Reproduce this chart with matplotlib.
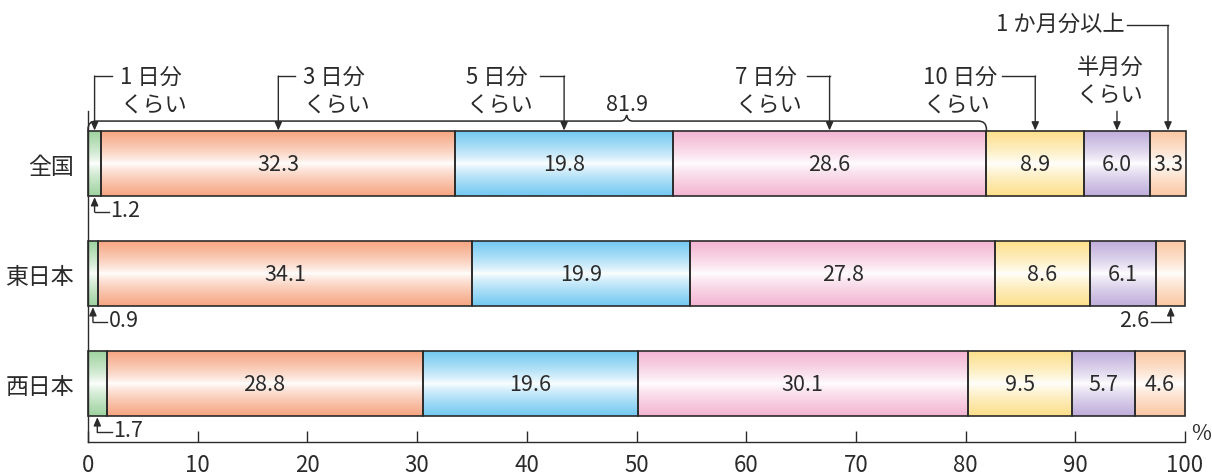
import numpy as np
import matplotlib.pyplot as plt
from matplotlib.path import Path
from matplotlib.patches import PathPatch

plt.rcParams['font.family'] = ['Noto Sans CJK JP', 'DejaVu Sans']

regions = ['全国', '東日本', '西日本']
shares = [
    [1.2, 32.3, 19.8, 28.6, 8.9, 6.0, 3.3],
    [0.9, 34.1, 19.9, 27.8, 8.6, 6.1, 2.6],
    [1.7, 28.8, 19.6, 30.1, 9.5, 5.7, 4.6],
]
groupLabels = ['1 日分\nくらい', '3 日分\nくらい', '5 日分\nくらい', '7 日分\nくらい',
               '10 日分\nくらい', '半月分\nくらい', '1 か月分以上']
bracketTotal = 81.9
xTicks = list(range(0, 101, 10))

segColors = ['#9fd3a0', '#f6a683', '#74c9f1', '#f3b6d2', '#fde08c', '#bfaedb', '#fbc8a4']
ink = '#2b2b2b'
barH = 0.59
numSize = 15.5

fig = plt.figure(figsize=(12.12, 4.77), dpi=100)
ax = fig.add_axes([88 / 1212, 34 / 477, 1097 / 1212, 443 / 477])


def gradient(color, n=64):
    c = np.array(plt.matplotlib.colors.to_rgb(color))
    t = np.abs(np.linspace(-1, 1, n)) ** 0.75
    img = 1 + (c - 1) * t[:, None]
    return img[:, None, :]


# stacked bars with a white band through the middle
for row, vals in enumerate(shares):
    lefts = np.concatenate([[0], np.cumsum(vals)[:-1]])
    for k, (left, v) in enumerate(zip(lefts, vals)):
        ax.imshow(gradient(segColors[k]), extent=[left, left + v, row + barH / 2, row - barH / 2],
                  aspect='auto', interpolation='bilinear', zorder=1)
        ax.barh(row, v, left=left, height=barH, facecolor='none', edgecolor=ink,
                linewidth=1.2, zorder=2, clip_on=False)
        if v >= 3:
            ax.text(left + v / 2, row, f'{v:.1f}', ha='center', va='center',
                    fontsize=numSize, color=ink, zorder=3)

# small values pointed at from below the bars
def smallLabel(row, k, side):
    vals = shares[row]
    x = sum(vals[:k]) + vals[k] / 2
    yb = row + barH / 2
    yl = row + 0.44
    dx = 1.3 if side == 'right' else -1.8
    ax.annotate('', xy=(x, yb + 0.01), xytext=(x, yl),
                arrowprops=dict(arrowstyle='-|>,head_length=0.5,head_width=0.22', color=ink,
                                lw=1, shrinkA=0, shrinkB=0, mutation_scale=10))
    ax.plot([x, x + dx], [yl, yl], color=ink, lw=1)
    ax.text(x + dx + (0.15 if side == 'right' else -0.15), row + 0.42, f'{vals[k]:.1f}',
            ha='left' if side == 'right' else 'right', va='center', fontsize=numSize, color=ink)


smallLabel(0, 0, 'right')
smallLabel(1, 0, 'right')
smallLabel(2, 0, 'right')
smallLabel(1, 6, 'left')

# group labels above the first bar
top = shares[0]
centers = [sum(top[:k]) + top[k] / 2 for k in range(len(top))]
barTop = -barH / 2
textX = [2.9, 19.6, 34.5, 59.0, 76.1, 90.1, 94.5]
elbowFrom = [2.2, 18.9, 41.2, 65.5, 83.3, None, 94.7]
line1Y = -0.795
line2Y = -0.535
for k, lab in enumerate(groupLabels):
    first, _, second = lab.partition('\n')
    if k == 6:
        ax.text(textX[k], -1.27, first, ha='right', va='center', fontsize=16, color=ink)
        yl = -1.255
    elif k == 5:
        ax.text(textX[k], -0.88, first, ha='left', va='center', fontsize=16, color=ink)
        ax.text(textX[k], -0.62, second, ha='left', va='center', fontsize=16, color=ink)
        yl = -0.475
    else:
        ax.text(textX[k], line1Y, first, ha='left', va='center', fontsize=16, color=ink)
        ax.text(textX[k], line2Y, second, ha='left', va='center', fontsize=16, color=ink)
        yl = -0.795
    if elbowFrom[k] is not None:
        ax.plot([elbowFrom[k], centers[k]], [yl, yl], color=ink, lw=1)
    ax.annotate('', xy=(centers[k], barTop - 0.005), xytext=(centers[k], yl),
                arrowprops=dict(arrowstyle='-|>,head_length=0.5,head_width=0.22', color=ink,
                                lw=1, shrinkA=0, shrinkB=0, mutation_scale=10))

# brace over the first four groups
by = -0.386
rx, ry = 0.75, 0.075
mid = 49.1
bx, bh = 0.55, 0.055
verts = [(0, barTop), (0, by + ry), (0, by), (rx, by),
         (mid - bx, by), (mid - 0.1, by), (mid, by - bh),
         (mid + 0.1, by), (mid + bx, by),
         (bracketTotal - rx, by), (bracketTotal, by), (bracketTotal, by + ry),
         (bracketTotal, barTop)]
codes = [Path.MOVETO, Path.LINETO, Path.CURVE3, Path.CURVE3,
         Path.LINETO, Path.CURVE3, Path.CURVE3, Path.CURVE3, Path.CURVE3,
         Path.LINETO, Path.CURVE3, Path.CURVE3, Path.LINETO]
ax.add_patch(PathPatch(Path(verts, codes), fill=False, edgecolor=ink, lw=1.1, clip_on=False))
ax.text(mid, -0.545, f'{bracketTotal:.1f}', ha='center', va='center', fontsize=numSize, color=ink)

# axes
ax.set_xlim(0, 100)
ax.set_ylim(2.53, -1.495)
ax.set_xticks(xTicks)
ax.set_xticklabels([str(t) for t in xTicks], fontsize=16, color=ink)
ax.tick_params(axis='x', direction='in', length=8, width=1, color=ink, pad=8)
ax.set_yticks(range(len(regions)))
ax.set_yticklabels(regions, fontsize=16.5, color=ink)
ax.tick_params(axis='y', length=0, pad=10)
for s in ['top', 'right']:
    ax.spines[s].set_visible(False)
ax.spines['left'].set_bounds(-0.477, 2.53)
ax.spines['left'].set_color(ink)
ax.spines['bottom'].set_color(ink)
ax.spines['left'].set_linewidth(1)
ax.spines['bottom'].set_linewidth(1)
ax.text(100.6, 2.45, '%', ha='left', va='center', fontsize=15.5, color=ink, clip_on=False)

fig.savefig('out.png', dpi=100)
